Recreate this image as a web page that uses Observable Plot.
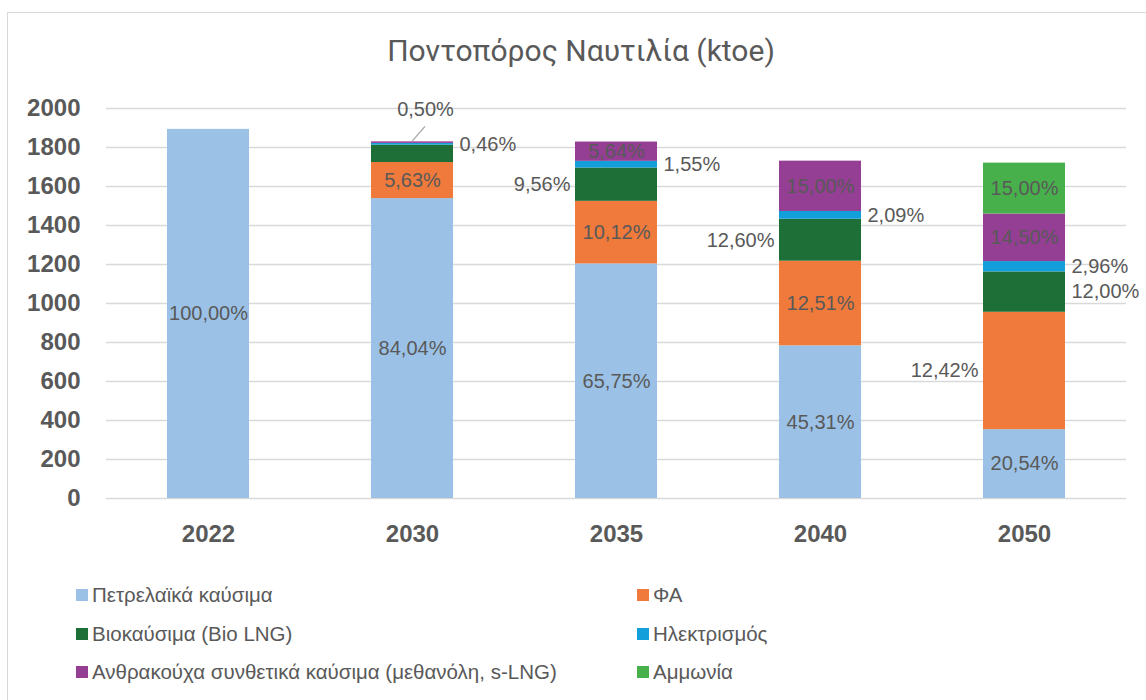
<!DOCTYPE html>
<html><head><meta charset="utf-8">
<script src="https://cdn.jsdelivr.net/npm/d3@7"></script>
<script src="https://cdn.jsdelivr.net/npm/@observablehq/plot@0.6"></script>
<style>
body{margin:0;overflow:hidden;background:#fff;}
#wrap{position:relative;width:1146px;height:700px;overflow:hidden;font-family:"Liberation Sans",Arial,sans-serif;background:#fff;}
#frame{position:absolute;left:7px;top:12px;width:1200px;height:800px;border-left:1.5px solid #D9D9D9;border-top:1.5px solid #D9D9D9;}
#title{position:absolute;left:0;width:1162px;top:33px;text-align:center;font-family:Roboto,"Liberation Sans",sans-serif;font-size:30px;line-height:35px;color:#595959;white-space:nowrap;}
#chart{position:absolute;left:0;top:0;}
.leg{position:absolute;font-size:20.5px;line-height:24px;color:#595959;display:flex;align-items:center;white-space:nowrap;}
.sw{width:12px;height:12px;margin-right:4px;flex:none;}
</style></head><body>
<div id="wrap">
  <div id="frame"></div>
  <div id="chart"></div>
  <div id="title">Ποντοπόρος Ναυτιλία (ktoe)</div>
  <div id="legend"></div>
</div>
<script>
// ---------- data ----------
const years = ["2022", "2030", "2035", "2040", "2050"];
const seriesNames = [
  "Πετρελαϊκά καύσιμα",
  "ΦΑ",
  "Βιοκαύσιμα (Bio LNG)",
  "Ηλεκτρισμός",
  "Ανθρακούχα συνθετικά καύσιμα (μεθανόλη, s-LNG)",
  "Αμμωνία"
];
const petroleum   = [1893, 1538, 1203, 783, 353];
const fa          = [0, 185, 321, 434, 602];
const bio         = [0, 89, 171, 215, 207];
const electricity = [0, 9, 34, 40, 53];
const synthetic   = [0, 8, 99, 258, 244];
const ammonia     = [0, 0, 0, 0, 261];

const labelsPetroleum   = ["100,00%", "84,04%", "65,75%", "45,31%", "20,54%"];
const labelsFA          = ["", "5,63%", "10,12%", "12,51%", "12,42%"];
const labelsBio         = ["", "", "9,56%", "12,60%", "12,00%"];
const labelsElectricity = ["", "0,46%", "1,55%", "2,09%", "2,96%"];
const labelsSynthetic   = ["", "0,50%", "5,64%", "15,00%", "14,50%"];
const labelsAmmonia     = ["", "", "", "", "15,00%"];

const yTicks = [0, 200, 400, 600, 800, 1000, 1200, 1400, 1600, 1800, 2000];

// ---------- styling ----------
const colors = ["#9BC2E6", "#EF7A3B", "#1E6E38", "#13A0DA", "#943E94", "#48B04B"];
// label placement relative to its segment (default: centred inside)
const placement = {
  "ΦΑ|2050": "left",
  "Βιοκαύσιμα (Bio LNG)|2035": "left",
  "Βιοκαύσιμα (Bio LNG)|2040": "left",
  "Βιοκαύσιμα (Bio LNG)|2050": "right",
  "Ηλεκτρισμός|2030": "right",
  "Ηλεκτρισμός|2035": "right",
  "Ηλεκτρισμός|2040": "right",
  "Ηλεκτρισμός|2050": "right",
  "Ανθρακούχα συνθετικά καύσιμα (μεθανόλη, s-LNG)|2030": "callout"
};

const valueArrays = [petroleum, fa, bio, electricity, synthetic, ammonia];
const labelArrays = [labelsPetroleum, labelsFA, labelsBio, labelsElectricity, labelsSynthetic, labelsAmmonia];

// build table with manual stacking
const rows = [];
years.forEach((year, i) => {
  let base = 0;
  seriesNames.forEach((s, k) => {
    const v = valueArrays[k][i];
    const row = {year, series: s, value: v, y1: base, y2: base + v, mid: base + v / 2,
                 label: labelArrays[k][i], place: placement[s + "|" + year] || "center"};
    base += v;
    if (v > 0) rows.push(row);
  });
});
const labelRows = rows.filter(d => d.label);
const centerRows = labelRows.filter(d => d.place === "center");
const leftRows = labelRows.filter(d => d.place === "left");
const rightRows = labelRows.filter(d => d.place === "right");
const calloutRows = labelRows.filter(d => d.place === "callout");

const labelStyle = {fill: "#595959", fontSize: 20, fontFamily: "Liberation Sans, Arial, sans-serif"};

const leader = (index, scales) => {
  const g = document.createElementNS("http://www.w3.org/2000/svg", "g");
  const bw = typeof scales.x.bandwidth === "function" ? scales.x.bandwidth() : scales.x.bandwidth;
  calloutRows.forEach(d => {
    const cx = scales.x(d.year) + bw / 2;
    const cy = scales.y(d.y2);
    const line = document.createElementNS("http://www.w3.org/2000/svg", "line");
    line.setAttribute("x1", cx);
    line.setAttribute("y1", cy);
    line.setAttribute("x2", cx + 13);
    line.setAttribute("y2", cy - 15);
    line.setAttribute("stroke", "#A6A6A6");
    line.setAttribute("stroke-width", 1.3);
    g.appendChild(line);
  });
  return g;
};

const chart = Plot.plot({
  width: 1146,
  height: 560,
  marginTop: 108,
  marginBottom: 62,
  marginLeft: 106,
  marginRight: 20,
  style: {fontFamily: "Liberation Sans, Arial, sans-serif", background: "transparent", overflow: "visible"},
  x: {domain: years, paddingInner: 0.6, paddingOuter: 0.3},
  y: {domain: [0, 2000]},
  color: {domain: seriesNames, range: colors},
  marks: [
    Plot.gridY(yTicks, {stroke: "#D9D9D9", strokeOpacity: 1, strokeWidth: 1.3}),
    Plot.barY(rows, {x: "year", y1: "y1", y2: "y2", fill: "series", inset: 0}),
    Plot.axisY({ticks: yTicks, tickSize: 0, tickPadding: 26, fontSize: 24, fontWeight: "bold", fill: "#595959", label: null, tickFormat: d => String(d)}),
    Plot.axisX({tickSize: 0, tickPadding: 26, fontSize: 24, fontWeight: "bold", fill: "#595959", label: null}),
    Plot.text(centerRows, {x: "year", y: "mid", text: "label", ...labelStyle}),
    Plot.text(leftRows, {x: "year", y: "mid", text: "label", textAnchor: "end", dx: -46, ...labelStyle}),
    Plot.text(rightRows, {x: "year", y: "mid", text: "label", textAnchor: "start", dx: 47, ...labelStyle}),
    Plot.text(calloutRows, {x: "year", y: "y2", text: "label", dx: 13, dy: -32, ...labelStyle}),
    leader
  ]
});
document.getElementById("chart").appendChild(chart);

// legend
const legendPos = [[76, 595], [637, 595], [76, 634], [637, 634], [76, 672], [637, 672]];
const legend = document.getElementById("legend");
seriesNames.forEach((s, k) => {
  const item = document.createElement("div");
  item.className = "leg";
  item.style.left = legendPos[k][0] + "px";
  item.style.top = (legendPos[k][1] - 12) + "px";
  const sw = document.createElement("div");
  sw.className = "sw";
  sw.style.background = colors[k];
  const t = document.createElement("span");
  t.textContent = s;
  item.appendChild(sw);
  item.appendChild(t);
  legend.appendChild(item);
});
</script>
</body></html>
